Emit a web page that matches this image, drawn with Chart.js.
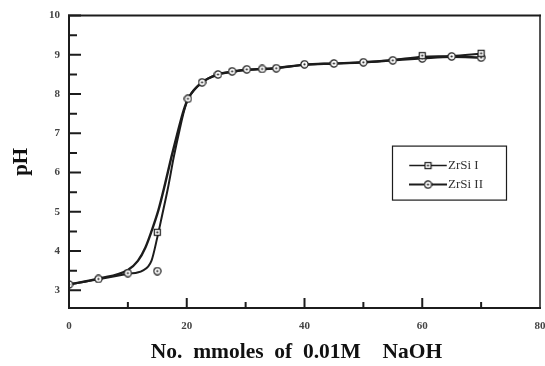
<!DOCTYPE html>
<html>
<head>
<meta charset="utf-8">
<script src="https://cdn.jsdelivr.net/npm/chart.js@4/dist/chart.umd.min.js"></script>
<style>
  html, body { margin: 0; padding: 0; background: #fff; }
  #wrap { width: 545px; height: 366px; }
</style>
</head>
<body>
<div id="wrap"><canvas id="myChart"></canvas></div>
<script>
// values
const seriesNames = ['ZrSi I', 'ZrSi II'];
const xTicks = [0, 20, 40, 60, 80];
const yTicks = [3, 4, 5, 6, 7, 8, 9, 10];

// smooth curves
const xCurveI  = [0, 5, 10, 12.5, 14, 15, 15.8, 16.8, 17.8, 18.8, 19.6, 20.3, 22.6, 25.3, 27.7, 30.2, 35, 40, 45, 50, 55, 60, 65, 70];
const yCurveI  = [3.15, 3.28, 3.42, 3.5, 3.75, 4.35, 4.9, 5.6, 6.4, 7.1, 7.6, 7.9, 8.3, 8.5, 8.57, 8.62, 8.66, 8.75, 8.78, 8.81, 8.87, 8.95, 8.97, 9.03];
const xCurveII = [0, 5, 10, 11.7, 13, 14, 15.2, 16.3, 17.4, 18.5, 19.5, 20.3, 22.6, 25.3, 27.7, 30.2, 35, 40, 45, 50, 55, 60, 65, 70];
const yCurveII = [3.15, 3.3, 3.52, 3.75, 4.1, 4.5, 5.05, 5.7, 6.4, 7.05, 7.6, 7.9, 8.3, 8.5, 8.57, 8.62, 8.66, 8.75, 8.78, 8.81, 8.86, 8.91, 8.95, 8.93];

// measured points
const xMarkI  = [15, 60, 70];
const yMarkI  = [4.48, 8.98, 9.04];
const xMarkII = [0, 5, 10, 15, 20.2, 22.6, 25.3, 27.7, 30.2, 32.8, 35.2, 40, 45, 50, 55, 60, 65, 70];
const yMarkII = [3.15, 3.29, 3.44, 3.49, 7.88, 8.3, 8.5, 8.58, 8.63, 8.64, 8.66, 8.76, 8.78, 8.81, 8.86, 8.91, 8.96, 8.93];

const ink = '#1c1c1c';

function pairs(xs, ys) {
    return xs.map((x, i) => ({x: x, y: ys[i]}));
}

function makeMarker(kind) {
    const c = document.createElement('canvas');
    c.width = 9; c.height = 9;
    const g = c.getContext('2d');
    g.fillStyle = '#fff';
    g.strokeStyle = ink;
    g.lineWidth = 1.2;
    if (kind === 'square') {
        g.fillRect(1, 1, 7, 7);
        g.strokeRect(1.5, 1.5, 6, 6);
    } else {
        g.beginPath();
        g.arc(4.5, 4.5, 3.6, 0, Math.PI * 2);
        g.fill();
        g.stroke();
    }
    g.fillStyle = ink;
    g.beginPath();
    g.arc(4.5, 4.5, 1.1, 0, Math.PI * 2);
    g.fill();
    return c;
}

const squareMark = makeMarker('square');
const circleMark = makeMarker('circle');

// frame, inward ticks and the boxed legend
const framePlugin = {
    id: 'frame',
    afterDraw(chart) {
        const ctx = chart.ctx;
        const a = chart.chartArea;
        const xs = chart.scales.x, ys = chart.scales.y;
        ctx.save();
        ctx.strokeStyle = ink;
        ctx.lineCap = 'square';
        ctx.lineWidth = 2;
        ctx.beginPath();
        ctx.moveTo(a.left, a.top); ctx.lineTo(a.left, a.bottom); ctx.lineTo(a.right, a.bottom);
        ctx.moveTo(a.left, a.top); ctx.lineTo(a.right, a.top);
        ctx.stroke();
        ctx.lineWidth = 1.5;
        ctx.beginPath();
        ctx.moveTo(a.right, a.top); ctx.lineTo(a.right, a.bottom);
        ctx.stroke();

        ctx.lineWidth = 2;
        ctx.beginPath();
        for (let v = 3; v <= 10; v += 0.5) {
            const py = ys.getPixelForValue(v);
            const len = Number.isInteger(v) ? 11 : 7;
            ctx.moveTo(a.left, py); ctx.lineTo(a.left + len, py);
        }
        for (let v = 10; v < 80; v += 10) {
            const px = xs.getPixelForValue(v);
            const len = v % 20 === 0 ? 9 : 5;
            ctx.moveTo(px, a.bottom); ctx.lineTo(px, a.bottom - len);
        }
        ctx.stroke();

        // legend box
        const bx = a.right - 148, by = a.top + 130, bw = 114, bh = 54;
        ctx.lineWidth = 1.2;
        ctx.strokeRect(bx + 0.5, by + 0.5, bw, bh);
        const marks = [squareMark, circleMark];
        ctx.font = '13px "Liberation Serif"';
        ctx.textBaseline = 'middle';
        ctx.fillStyle = '#333';
        seriesNames.forEach((name, i) => {
            const ly = by + 20 + i * 19;
            ctx.lineWidth = i === 0 ? 1.5 : 2;
            ctx.beginPath();
            ctx.moveTo(bx + 18, ly); ctx.lineTo(bx + 54, ly);
            ctx.stroke();
            ctx.drawImage(marks[i], bx + 36 - 4.5, ly - 4.5);
            ctx.fillText(name, bx + 56, ly);
        });
        ctx.restore();
    }
};

function makeChart() {
    const myChart = document.getElementById('myChart').getContext('2d');
    new Chart(myChart, {
        type: 'line',
        data: {
            datasets: [
                {
                    label: seriesNames[0] + ' points',
                    type: 'scatter',
                    data: pairs(xMarkI, yMarkI),
                    pointStyle: squareMark,
                    showLine: false
                },
                {
                    label: seriesNames[1] + ' points',
                    type: 'scatter',
                    data: pairs(xMarkII, yMarkII),
                    pointStyle: circleMark,
                    showLine: false
                },
                {
                    label: seriesNames[0],
                    data: pairs(xCurveI, yCurveI),
                    borderColor: ink,
                    borderWidth: 2,
                    pointRadius: 0,
                    cubicInterpolationMode: 'monotone'
                },
                {
                    label: seriesNames[1],
                    data: pairs(xCurveII, yCurveII),
                    borderColor: ink,
                    borderWidth: 2.4,
                    pointRadius: 0,
                    cubicInterpolationMode: 'monotone'
                }
            ]
        },
        options: {
            responsive: false,
            animation: false,
            layout: { padding: { top: 13, right: 5, left: 0, bottom: 0 } },
            plugins: {
                legend: { display: false },
                tooltip: { enabled: false }
            },
            scales: {
                x: {
                    type: 'linear',
                    min: 0, max: 80,
                    grid: { display: false, drawTicks: false },
                    border: { display: false },
                    afterFit: s => { s.height = 58; s.paddingLeft = 0; s.paddingRight = 0; },
                    afterBuildTicks: s => { s.ticks = xTicks.map(v => ({value: v})); },
                    ticks: {
                        padding: 12,
                        color: '#444',
                        maxRotation: 0,
                        font: { family: '"Liberation Serif"', size: 11, weight: 'bold' }
                    },
                    title: {
                        display: true,
                        text: 'No.  mmoles  of  0.01M    NaOH   ',
                        color: '#111',
                        padding: { top: 1, bottom: 1 },
                        font: { family: '"Liberation Serif"', size: 21.5, weight: 'bold' }
                    }
                },
                y: {
                    min: 2.55, max: 10,
                    grid: { display: false, drawTicks: false },
                    border: { display: false },
                    afterFit: s => { s.width = 69; },
                    afterBuildTicks: s => { s.ticks = yTicks.map(v => ({value: v})); },
                    ticks: {
                        padding: 9,
                        color: '#444',
                        font: { family: '"Liberation Serif"', size: 11, weight: 'bold' }
                    },
                    title: {
                        display: true,
                        text: 'pH',
                        color: '#111',
                        padding: { top: 9, bottom: 9 },
                        font: { family: '"Liberation Serif"', size: 21, weight: 'bold' }
                    }
                }
            }
        },
        plugins: [framePlugin]
    });
}

const cv = document.getElementById('myChart');
cv.width = 545; cv.height = 366;
makeChart();
</script>
</body>
</html>
